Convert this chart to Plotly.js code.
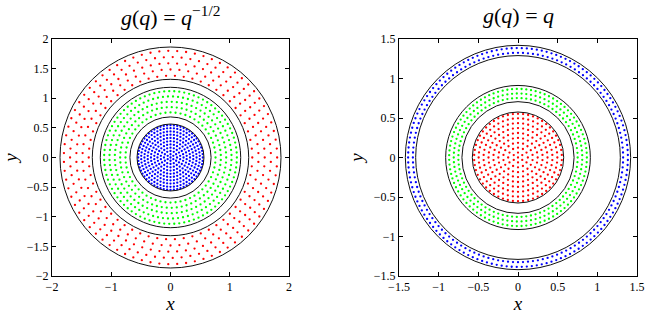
<!DOCTYPE html>
<html><head><meta charset="utf-8">
<script src="https://cdn.plot.ly/plotly-3.0.1.min.js"></script>
<style>body{margin:0;background:#fff}#c{width:649px;height:314px}</style>
</head><body><div id="c"></div>
<script>
// ---- data ----
// left panel g(q)=q^{-1/2}
const leftCircleRadii = [1.865, 1.32, 1.185, 0.685, 0.565];
const leftRedRingRadii = [1.38, 1.485, 1.59, 1.695, 1.80];
const leftRedRingCounts = [58, 62, 67, 71, 75];
const leftGreenRingRadii = [0.76, 0.85, 0.94, 1.03, 1.12];
const leftGreenRingCounts = [56, 63, 69, 76, 83];
const leftBlueRingRadii = [0, 0.055, 0.11, 0.165, 0.22, 0.275, 0.33, 0.385, 0.44, 0.495, 0.545];
const leftBlueRingCounts = [1, 6, 12, 18, 24, 30, 36, 42, 48, 54, 60];
// right panel g(q)=q
const rightCircleRadii = [1.42, 1.29, 0.912, 0.707, 0.576];
const rightBlueRingRadii = [1.325, 1.385];
const rightBlueRingCounts = [132, 137];
const rightGreenRingRadii = [0.752, 0.81, 0.868];
const rightGreenRingCounts = [79, 85, 91];
const rightRedRingRadii = [0, 0.062, 0.124, 0.186, 0.248, 0.31, 0.372, 0.434, 0.496, 0.553];
const rightRedRingCounts = [1, 6, 12, 18, 24, 30, 36, 42, 48, 54];
const leftTicksX = [-2, -1, 0, 1, 2];
const leftTicksY = [-2, -1.5, -1, -0.5, 0, 0.5, 1, 1.5, 2];
const rightTicks = [-1.5, -1, -0.5, 0, 0.5, 1, 1.5];

function ringPoints(radii, counts) {
  const x = [], y = [];
  radii.forEach((r, i) => {
    const n = counts[i];
    const off = (i % 2) * Math.PI / Math.max(n, 1);
    for (let k = 0; k < n; k++) {
      const a = off + 2 * Math.PI * k / n;
      x.push(r * Math.cos(a)); y.push(r * Math.sin(a));
    }
  });
  return {x, y};
}
function dots(radii, counts, color, xa, ya) {
  const p = ringPoints(radii, counts);
  return {type: 'scatter', mode: 'markers', x: p.x, y: p.y, xaxis: xa, yaxis: ya,
    marker: {color: color, size: 2.3}, hoverinfo: 'skip', showlegend: false};
}
function circles(radii, xref, yref) {
  return radii.map(r => ({type: 'circle', xref: xref, yref: yref, x0: -r, x1: r, y0: -r, y1: r,
    line: {color: '#111', width: 1}, layer: 'above'}));
}

const traces = [
  dots(leftRedRingRadii, leftRedRingCounts, '#ff0000', 'x', 'y'),
  dots(leftGreenRingRadii, leftGreenRingCounts, '#00ff00', 'x', 'y'),
  dots(leftBlueRingRadii, leftBlueRingCounts, '#0000ff', 'x', 'y'),
  dots(rightBlueRingRadii, rightBlueRingCounts, '#0000ff', 'x2', 'y2'),
  dots(rightGreenRingRadii, rightGreenRingCounts, '#00ff00', 'x2', 'y2'),
  dots(rightRedRingRadii, rightRedRingCounts, '#ff0000', 'x2', 'y2')
];

const SERIF = 'Liberation Serif';
const tickFont = {family: SERIF, size: 12, color: '#000'};
const axTitleFont = {family: SERIF, size: 19, color: '#000'};
const titleFont = {family: SERIF, size: 22, color: '#000'};
function ax(domain, range, ticks, anchor, title) {
  return {domain: domain, range: range, tickvals: ticks, ticks: 'inside', ticklen: 4, tickcolor: '#000',
    mirror: 'ticks', showline: true, linecolor: '#000', linewidth: 1, showgrid: false, zeroline: false,
    tickfont: tickFont, anchor: anchor, fixedrange: true,
    title: {text: title, font: axTitleFont, standoff: 5}};
}

const layout = {
  width: 649, height: 314, margin: {l: 0, r: 0, t: 0, b: 0},
  font: {family: SERIF},
  paper_bgcolor: '#fff', plot_bgcolor: '#fff', showlegend: false,
  xaxis: ax([52/649, 289/649], [-2, 2], leftTicksX, 'y', '<i>x</i>'),
  yaxis: ax([38/314, 275/314], [-2, 2], leftTicksY, 'x', '<i>y</i>'),
  xaxis2: ax([399/649, 637/649], [-1.5, 1.5], rightTicks, 'y2', '<i>x</i>'),
  yaxis2: ax([38/314, 275/314], [-1.5, 1.5], rightTicks, 'x2', '<i>y</i>'),
  shapes: circles(leftCircleRadii, 'x', 'y').concat(circles(rightCircleRadii, 'x2', 'y2')),
  annotations: [
    {text: '<i>g</i>(<i>q</i>) = <i>q</i><sup>−1/2</sup>', xref: 'paper', yref: 'paper', x: 170/649, y: 1 - 16/314,
      showarrow: false, font: titleFont, xanchor: 'center', yanchor: 'middle'},
    {text: '<i>g</i>(<i>q</i>) = <i>q</i>', xref: 'paper', yref: 'paper', x: 518/649, y: 1 - 16/314,
      showarrow: false, font: titleFont, xanchor: 'center', yanchor: 'middle'}
  ]
};
Plotly.newPlot('c', traces, layout, {staticPlot: true, displayModeBar: false});
</script></body></html>
